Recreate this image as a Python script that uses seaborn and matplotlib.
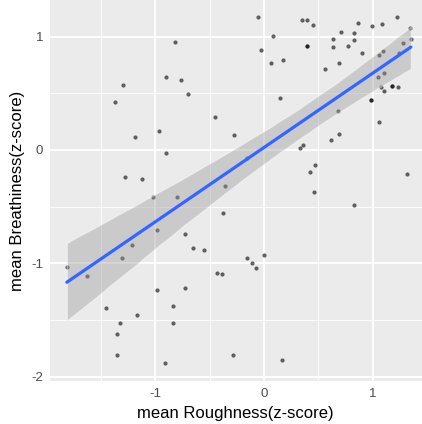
import matplotlib
matplotlib.use("Agg")
import matplotlib.pyplot as plt
import numpy as np
import pandas as pd
import seaborn as sns

# Per-speaker mean ratings (z-scored)
roughness = [
    -0.818, -0.904, -0.763, -1.295, -0.699, -1.372, -0.454, -0.280, -0.968, -1.188,
    -0.897, -1.280, -1.124, -0.362, -1.017, -0.800, -0.374, -0.986, -0.727, -1.213,
    -0.653, -0.549, -1.307, -1.812, -1.631, -0.429, -0.387, -0.983, -0.727, -1.454,
    -0.839, -1.164, -1.320, -0.839, -1.347, -1.353, -0.913, -0.286, -0.057, 0.350,
    0.396, 0.448, 0.081, -0.032, 0.393, 0.395, 0.060, 0.173, 0.867, 0.992,
    1.081, 1.219, 1.344, 1.350, 1.274, 1.243, 0.711, 0.830, 0.631, 0.827,
    0.638, 0.772, 0.904, 1.053, 1.096, 0.693, 0.561, 1.047, 1.102, 1.075,
    1.106, 1.173, 1.175, 1.234, 0.983, 0.985, 0.145, 0.677, 1.057, 0.693,
    0.613, 0.362, 0.328, -0.160, 0.472, 0.420, 1.317, 0.460, 0.827, -0.158,
    -0.106, -0.075, 0.002, 0.163,
]
breathiness = [
    0.953, 0.644, 0.615, 0.571, 0.494, 0.421, 0.288, 0.135, 0.170, 0.112,
    -0.029, -0.238, -0.253, -0.318, -0.412, -0.412, -0.556, -0.706, -0.741, -0.836,
    -0.862, -0.880, -0.950, -1.030, -1.115, -1.088, -1.097, -1.238, -1.221, -1.394,
    -1.374, -1.459, -1.527, -1.527, -1.627, -1.809, -1.883, -1.806, 1.174, 1.147,
    1.144, 1.106, 1.003, 0.880, 0.921, 0.919, 0.765, 0.791, 1.118, 1.097,
    1.112, 1.174, 1.077, 0.977, 0.947, 0.853, 1.041, 1.030, 0.977, 0.974,
    0.906, 0.915, 0.853, 0.841, 0.874, 0.768, 0.718, 0.644, 0.680, 0.553,
    0.521, 0.565, 0.563, 0.559, 0.439, 0.437, 0.462, 0.347, 0.247, 0.141,
    0.091, 0.047, 0.020, -0.073, -0.129, -0.194, -0.209, -0.368, -0.488, -0.953,
    -1.000, -1.044, -0.927, -1.851,
]
x_ticks = [-1, 0, 1]
y_ticks = [-2, -1, 0, 1]
x_minor = [-1.5, -0.5, 0.5]
y_minor = [-1.5, -0.5, 0.5]

df = pd.DataFrame({"roughness": roughness, "breathiness": breathiness})

sns.set_theme(style="darkgrid", rc={
    "axes.facecolor": "#EBEBEB",
    "grid.color": "white",
    "axes.edgecolor": "#EBEBEB",
})
plt.rcParams["font.family"] = ["Liberation Sans", "DejaVu Sans"]
plt.rcParams["axes.unicode_minus"] = False

W, H = 422, 424
fig = plt.figure(figsize=(W / 100, H / 100), dpi=100)
fig.patch.set_facecolor("white")
left_px, bottom_px = 49.5, 381
ax = fig.add_axes([left_px / W, (H - bottom_px) / H, (W - left_px) / W, bottom_px / H])

sns.regplot(
    data=df, x="roughness", y="breathiness", ax=ax,
    ci=95, n_boot=2000, seed=11,
    scatter_kws=dict(s=9, color="black", alpha=0.6, linewidths=0),
    line_kws=dict(color="#3366FF", linewidth=2.3),
)
# grey confidence ribbon behind the blue fit
band = ax.collections[-1]
band.set_facecolor("#999999")
band.set_alpha(0.4)

x0, ux = 264.0, 108.8
y0, uy = 150.0, 113.3
ax.set_xlim((left_px - x0) / ux, (W - x0) / ux)
ax.set_ylim(-(bottom_px - y0) / uy, y0 / uy)

ax.set_xticks(x_ticks)
ax.set_yticks(y_ticks)
ax.set_xticks(x_minor, minor=True)
ax.set_yticks(y_minor, minor=True)
ax.grid(which="major", color="white", linewidth=1.3)
ax.grid(which="minor", color="white", linewidth=0.6)
ax.set_axisbelow(True)
for s in ax.spines.values():
    s.set_visible(False)

ax.tick_params(which="major", length=2.7, width=0.8, color="#333333",
               labelcolor="#4D4D4D", labelsize=9.6, pad=2)
ax.tick_params(which="minor", length=0)

ax.set_xlabel("mean Roughness(z-score)", fontsize=12, color="black", labelpad=4.5)
ax.set_ylabel("mean Breathiness(z-score)", fontsize=12, color="black", labelpad=4)

fig.savefig("out.png", dpi=100)
